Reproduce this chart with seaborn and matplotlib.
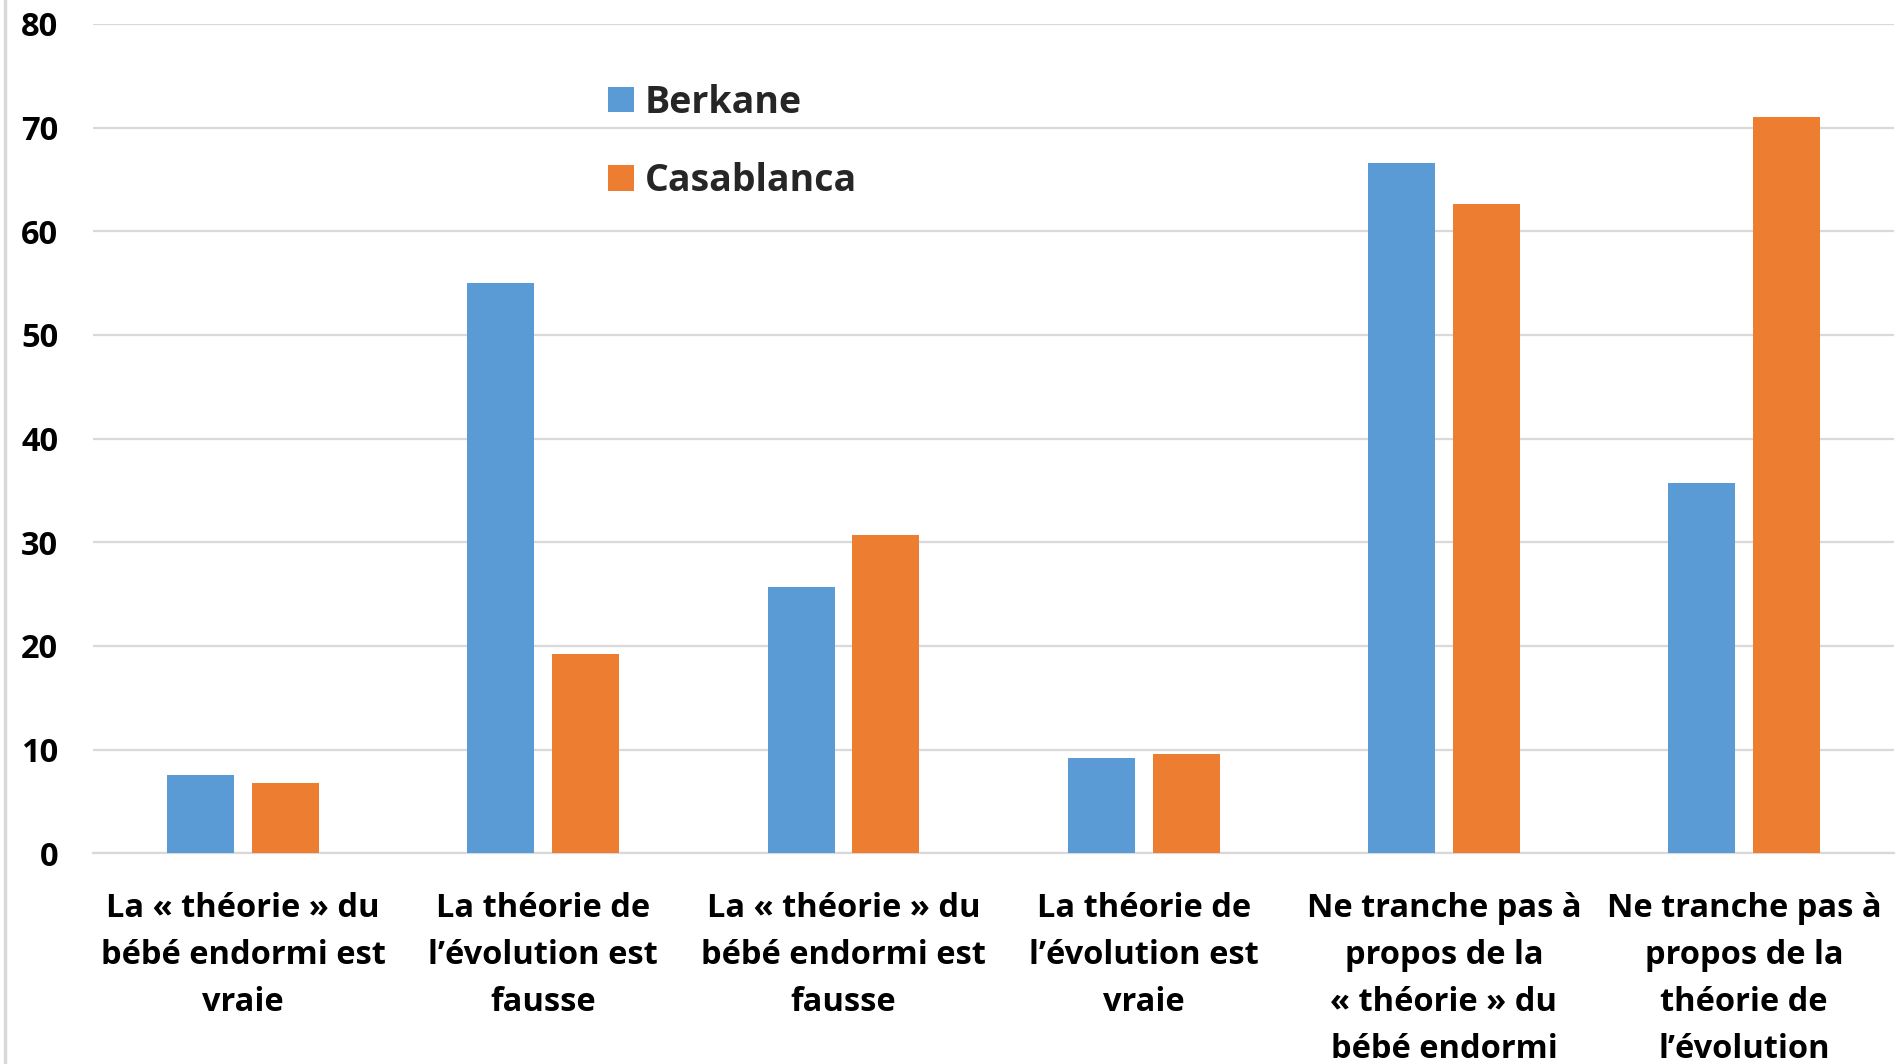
import matplotlib
matplotlib.use("Agg")
import matplotlib.pyplot as plt
from matplotlib.patches import Patch
from matplotlib.lines import Line2D
import pandas as pd
import seaborn as sns

# Survey answers (percent of respondents) by city
categories = [
    "La « théorie » du\nbébé endormi est\nvraie",
    "La théorie de\nl’évolution est\nfausse",
    "La « théorie » du\nbébé endormi est\nfausse",
    "La théorie de\nl’évolution est\nvraie",
    "Ne tranche pas à\npropos de la\n« théorie » du\nbébé endormi",
    "Ne tranche pas à\npropos de la\nthéorie de\nl’évolution",
]
berkane = [7.6, 55.0, 25.7, 9.2, 66.6, 35.7]
casablanca = [6.8, 19.2, 30.7, 9.6, 62.6, 71.0]
cities = ["Berkane", "Casablanca"]
colors = ["#5B9BD5", "#ED7D31"]
yticks = [0, 10, 20, 30, 40, 50, 60, 70, 80]

df = pd.DataFrame({
    "Catégorie": categories * 2,
    "Ville": [cities[0]] * len(categories) + [cities[1]] * len(categories),
    "Pourcentage": berkane + casablanca,
})

sns.set_theme(style="white")
plt.rcParams["font.family"] = ["Open Sans", "DejaVu Sans"]

fig = plt.figure(figsize=(18.98, 10.64), dpi=100)
ax = fig.add_axes([0.049, 0.198, 0.949, 0.7795])

sns.barplot(
    data=df, x="Catégorie", y="Pourcentage", hue="Ville",
    palette=colors, hue_order=cities, order=categories,
    width=0.565, gap=0.21, linewidth=0, saturation=1,
    legend=False, ax=ax, zorder=3,
)

ax.set_ylim(0, 80)
ax.set_xlim(-0.5, len(categories) - 0.5)
ax.set_yticks(yticks)
ax.set_yticklabels([str(v) for v in yticks], fontsize=23.5, fontweight="bold", color="#000000")
ax.tick_params(axis="y", length=0, pad=25)
ax.tick_params(axis="x", length=0, pad=27.5)
for lbl in ax.get_xticklabels():
    lbl.set_fontsize(23.5)
    lbl.set_fontweight("bold")
    lbl.set_color("#000000")
    lbl.set_linespacing(1.57)
    lbl.set_ha("center")
    lbl.set_va("top")

ax.set_xlabel("")
ax.set_ylabel("")
ax.grid(axis="y", color="#D9D9D9", linewidth=1.6, zorder=0)
ax.grid(axis="x", visible=False)
ax.set_axisbelow(True)
for side in ["top", "right", "left"]:
    ax.spines[side].set_visible(False)
ax.spines["bottom"].set_color("#D9D9D9")
ax.spines["bottom"].set_linewidth(1.6)

handles = [Patch(facecolor=c, edgecolor="none", label=n) for c, n in zip(colors, cities)]
leg = fig.legend(
    handles=handles, loc="upper left", bbox_to_anchor=(0.3027, 0.953),
    frameon=False, prop={"family": "Open Sans", "weight": "bold", "size": 27},
    handlelength=0.68, handleheight=0.68, handletextpad=0.3, labelspacing=1.07,
)

# light frame edge on the left of the chart area
fig.add_artist(Line2D([0.0027, 0.0027], [0, 1], transform=fig.transFigure,
                      color="#D9D9D9", linewidth=2.5))

fig.savefig("out.png", dpi=100, facecolor="white")
